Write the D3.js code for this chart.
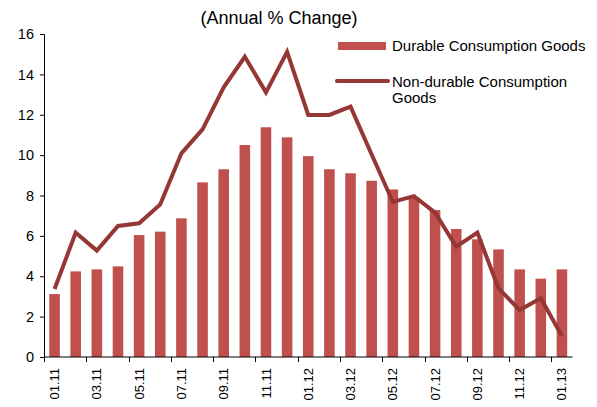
<!DOCTYPE html>
<html lang="en">
  <head>
    <meta charset="utf-8">
    <title>Consumption goods</title>
    <script src="https://cdn.jsdelivr.net/npm/d3@7"></script>
    <style>
      body { margin: 0; background: #fff; }
      text { font-family: Arial, "Liberation Sans", sans-serif; fill: #000; }
    </style>
  </head>
  <body>
    <script>
      // months 01.11 .. 01.13
      var months = ["01.11","02.11","03.11","04.11","05.11","06.11","07.11","08.11","09.11","10.11","11.11","12.11",
                    "01.12","02.12","03.12","04.12","05.12","06.12","07.12","08.12","09.12","10.12","11.12","12.12","01.13"];
      var durable = [3.12, 4.24, 4.34, 4.49, 6.04, 6.21, 6.87, 8.65, 9.30, 10.50, 11.38, 10.88,
                     9.95, 9.30, 9.10, 8.73, 8.30, 7.90, 7.28, 6.34, 5.83, 5.33, 4.34, 3.88, 4.34];
      var nonDurable = [3.37, 6.16, 5.27, 6.49, 6.62, 7.56, 10.09, 11.28, 13.36, 14.87, 13.11, 15.12,
                        11.99, 11.99, 12.40, 10.03, 7.68, 7.97, 7.15, 5.46, 6.16, 3.40, 2.33, 2.91, 1.04];
      var yTicks = [0, 2, 4, 6, 8, 10, 12, 14, 16];

      var w = 597, h = 407;
      var padL = 44, padR = 572.5, padT = 34, padB = 357;

      var svg = d3.select("body").append("svg")
        .attr("width", w)
        .attr("height", h);

      var x = d3.scaleBand().domain(months).range([padL, padR]);
      var y = d3.scaleLinear().domain([0, 16]).range([padB, padT]);

      // bars
      var barW = x.bandwidth() * 0.5;
      svg.selectAll("rect.bar")
        .data(durable)
        .enter().append("rect")
        .attr("class", "bar")
        .attr("x", function(d, i) { return x(months[i]) + (x.bandwidth() - barW) / 2; })
        .attr("y", function(d) { return y(d); })
        .attr("width", barW)
        .attr("height", function(d) { return y(0) - y(d); })
        .attr("fill", "#C0504D");

      // line
      var line = d3.line()
        .x(function(d, i) { return x(months[i]) + x.bandwidth() / 2; })
        .y(function(d) { return y(d); });

      svg.append("path")
        .datum(nonDurable)
        .attr("fill", "none")
        .attr("stroke", "#953735")
        .attr("stroke-width", 4)
        .attr("stroke-linejoin", "miter")
        .attr("d", line);

      // y axis
      var yAxis = d3.axisLeft(y).tickValues(yTicks).tickSize(4).tickPadding(6);
      var gy = svg.append("g")
        .attr("transform", "translate(" + padL + ",0)")
        .call(yAxis);
      gy.select(".domain").attr("stroke", "#000");
      gy.selectAll("line").attr("stroke", "#000");
      gy.selectAll("text").style("font-size", "14.5px").attr("fill", "#000");

      // x axis: ticks on every other band edge, labels at band centres
      var gx = svg.append("g")
        .attr("transform", "translate(0," + padB + ")");
      gx.append("line")
        .attr("x1", padL).attr("x2", padR)
        .attr("stroke", "#000");
      var shown = months.filter(function(d, i) { return i % 2 === 0; });
      gx.selectAll("line.tick")
        .data(shown)
        .enter().append("line")
        .attr("class", "tick")
        .attr("x1", function(d) { return Math.round(x(d)) + 0.5; })
        .attr("x2", function(d) { return Math.round(x(d)) + 0.5; })
        .attr("y1", 0).attr("y2", 5)
        .attr("stroke", "#000");
      gx.selectAll("text")
        .data(shown)
        .enter().append("text")
        .attr("transform", function(d) {
          return "translate(" + (x(d) + x.bandwidth() / 2) + ",11) rotate(-90)";
        })
        .attr("dy", "0.35em")
        .attr("text-anchor", "end")
        .style("font-size", "13px")
        .text(function(d) { return d; });

      // title
      svg.append("text")
        .attr("x", 279).attr("y", 24)
        .attr("text-anchor", "middle")
        .style("font-size", "18px")
        .text("(Annual % Change)");

      // legend
      svg.append("rect")
        .attr("x", 338).attr("y", 42)
        .attr("width", 48).attr("height", 8)
        .attr("fill", "#C0504D");
      svg.append("text")
        .attr("x", 392).attr("y", 51)
        .style("font-size", "15px")
        .text("Durable Consumption Goods");

      svg.append("line")
        .attr("x1", 337).attr("x2", 388)
        .attr("y1", 81).attr("y2", 81)
        .attr("stroke", "#953735")
        .attr("stroke-width", 4)
        .attr("stroke-linecap", "round");
      var t2 = svg.append("text")
        .attr("x", 392).attr("y", 87)
        .style("font-size", "15px");
      t2.append("tspan").attr("x", 392).text("Non-durable Consumption");
      t2.append("tspan").attr("x", 392).attr("dy", 16).text("Goods");
    </script>
  </body>
</html>
